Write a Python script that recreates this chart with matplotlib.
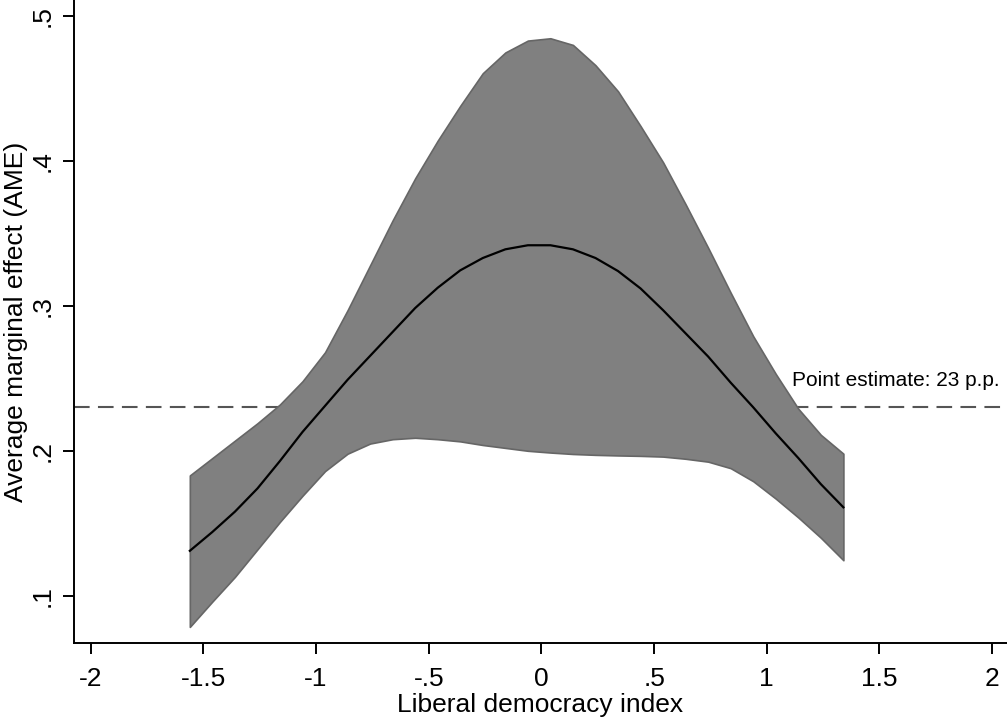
import matplotlib
matplotlib.use("Agg")
import matplotlib.pyplot as plt

plt.rcParams['font.family'] = ['Liberation Sans', 'DejaVu Sans']

# Liberal democracy index grid
ldi = [-1.56, -1.46, -1.36, -1.26, -1.16, -1.06, -0.96, -0.86, -0.76, -0.66,
       -0.56, -0.46, -0.36, -0.26, -0.16, -0.06, 0.04, 0.14, 0.24, 0.34,
       0.44, 0.54, 0.64, 0.74, 0.84, 0.94, 1.04, 1.14, 1.24, 1.34]

# Average marginal effect and its confidence bounds
ame = [0.131, 0.144, 0.158, 0.174, 0.193, 0.213, 0.231, 0.249, 0.2655, 0.282,
       0.2985, 0.3125, 0.3245, 0.333, 0.339, 0.3418, 0.3418, 0.339, 0.333, 0.324,
       0.312, 0.297, 0.281, 0.265, 0.247, 0.230, 0.212, 0.195, 0.177, 0.161]
upper = [0.183, 0.195, 0.207, 0.219, 0.232, 0.248, 0.268, 0.297, 0.328, 0.359,
         0.388, 0.414, 0.438, 0.4605, 0.4748, 0.483, 0.4846, 0.480, 0.466, 0.448,
         0.424, 0.399, 0.370, 0.340, 0.309, 0.279, 0.253, 0.229, 0.211, 0.198]
lower = [0.0785, 0.096, 0.113, 0.132, 0.151, 0.169, 0.186, 0.198, 0.205, 0.208,
         0.209, 0.208, 0.2065, 0.204, 0.202, 0.200, 0.1988, 0.1978, 0.1972, 0.1968,
         0.1965, 0.196, 0.1945, 0.1925, 0.188, 0.179, 0.167, 0.154, 0.140, 0.1245]

point_estimate = 0.23
point_label = "Point estimate: 23 p.p."

x_ticks = [-2, -1.5, -1, -0.5, 0, 0.5, 1, 1.5, 2]
x_tick_labels = ["-2", "-1.5", "-1", "-.5", "0", ".5", "1", "1.5", "2"]
y_ticks = [0.1, 0.2, 0.3, 0.4, 0.5]
y_tick_labels = [".1", ".2", ".3", ".4", ".5"]

fig = plt.figure(figsize=(10.07, 7.18), dpi=100)
ax = fig.add_axes([74 / 1007, 75 / 718, 933 / 1007, 643 / 718])

ax.axhline(point_estimate, color="#555555", lw=1.5, dashes=(7.5, 4), zorder=1)
ax.fill_between(ldi, lower, upper, facecolor="#808080", edgecolor="#666666",
                lw=1.2, zorder=2)
ax.plot(ldi, ame, color="black", lw=1.6, zorder=3)
ax.text(1.114, 0.2445, point_label, fontsize=15, ha="left", va="baseline",
        color="black")

ax.set_xlim(-2.074, 2.066)
ax.set_ylim(0.0674, 0.511)
ax.set_xticks(x_ticks)
ax.set_xticklabels(x_tick_labels)
ax.set_yticks(y_ticks)
ax.set_yticklabels(y_tick_labels, rotation=90, va="center")

for side in ("top", "right"):
    ax.spines[side].set_visible(False)
for side in ("left", "bottom"):
    ax.spines[side].set_linewidth(1.4)
ax.tick_params(axis="both", length=8, width=1.4, labelsize=19, direction="out")
ax.tick_params(axis="x", pad=9)
ax.tick_params(axis="y", pad=6)

ax.set_xlabel("Liberal democracy index", fontsize=19, labelpad=2)
ax.set_ylabel("Average marginal effect (AME)", fontsize=19, labelpad=2)

fig.savefig("out.png", dpi=100)
